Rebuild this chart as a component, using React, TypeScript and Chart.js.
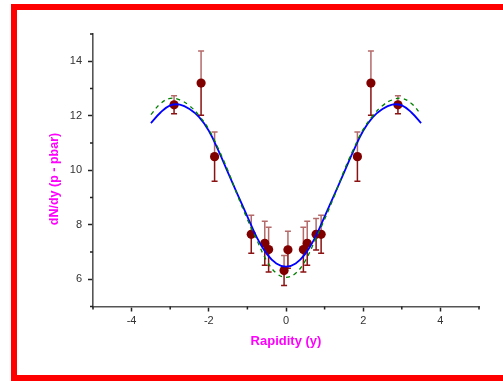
import { useEffect, useRef } from 'react';
import { Chart, registerables } from 'chart.js';
Chart.register(...registerables);

// Measured data points: rapidity, dN/dy and symmetric error
const rapidity = [-2.9, -2.2, -1.85, -0.9, -0.55, -0.45, -0.05, 0.05, 0.45, 0.55, 0.78, 0.91, 1.85, 2.2, 2.9];
const dndy = [12.4, 13.2, 10.5, 7.65, 7.32, 7.09, 6.32, 7.08, 7.09, 7.32, 7.65, 7.65, 10.5, 13.2, 12.4];
const dndyErr = [0.33, 1.18, 0.9, 0.7, 0.81, 0.82, 0.55, 0.68, 0.82, 0.81, 0.58, 0.7, 0.9, 1.18, 0.33];

// Fit curves
const curveX = [-3.5, -3.25, -3, -2.75, -2.5, -2.25, -2, -1.75, -1.5, -1.25, -1, -0.75, -0.5, -0.25, 0,
  0.25, 0.5, 0.75, 1, 1.25, 1.5, 1.75, 2, 2.25, 2.5, 2.75, 3, 3.25, 3.5];
const fitSolid = [11.73, 12.12, 12.38, 12.41, 12.25, 11.95, 11.45, 10.72, 9.9, 9.1, 8.3, 7.52, 6.93, 6.58, 6.46,
  6.58, 6.93, 7.52, 8.3, 9.1, 9.9, 10.72, 11.45, 11.95, 12.25, 12.41, 12.38, 12.12, 11.73];
const fitDashed = [12.04, 12.45, 12.64, 12.58, 12.37, 12.0, 11.5, 10.78, 9.97, 9.05, 8.2, 7.42, 6.68, 6.22, 6.07,
  6.22, 6.68, 7.42, 8.2, 9.05, 9.97, 10.78, 11.5, 12.0, 12.37, 12.58, 12.64, 12.45, 12.04];

const xTicksShown = [-4, -2, 0, 2, 4];
const yTicksShown = [6, 8, 10, 12, 14];
const xTitle = 'Rapidity (y)';
const yTitle = 'dN/dy (p - pbar)';

const FONT = '"Liberation Sans", Arial, sans-serif';

const decorPlugin = {
  id: 'decor',
  beforeDatasetDraw(chart: any, args: any) {
    if (args.index !== 2) return;
    const { ctx, scales } = chart;
    const xs = scales.x, ys = scales.y;
    ctx.save();
    ctx.lineWidth = 1.5;
    for (let i = 0; i < rapidity.length; i++) {
      const px = xs.getPixelForValue(rapidity[i]);
      const pm = ys.getPixelForValue(dndy[i]);
      const pt = ys.getPixelForValue(dndy[i] + dndyErr[i]);
      const pb = ys.getPixelForValue(dndy[i] - dndyErr[i]);
      ctx.strokeStyle = '#b56a6a';
      ctx.beginPath();
      ctx.moveTo(px, pm); ctx.lineTo(px, pt);
      ctx.moveTo(px - 3, pt); ctx.lineTo(px + 3, pt);
      ctx.stroke();
      ctx.strokeStyle = '#8b1212';
      ctx.beginPath();
      ctx.moveTo(px, pm); ctx.lineTo(px, pb);
      ctx.moveTo(px - 3, pb); ctx.lineTo(px + 3, pb);
      ctx.stroke();
    }
    ctx.restore();
  },
  afterDraw(chart: any) {
    const { ctx, scales, chartArea } = chart;
    const xs = scales.x, ys = scales.y;
    ctx.save();
    ctx.strokeStyle = '#222';
    ctx.lineWidth = 1.5;
    ctx.beginPath();
    for (let v = -5; v <= 5; v++) {
      if (v % 2 === 0) continue;
      const px = xs.getPixelForValue(v);
      ctx.moveTo(px, chartArea.bottom);
      ctx.lineTo(px, chartArea.bottom + 3);
    }
    for (let v = 5; v <= 15; v++) {
      if (v % 2 === 0) continue;
      const py = ys.getPixelForValue(v);
      ctx.moveTo(chartArea.left, py);
      ctx.lineTo(chartArea.left - 3, py);
    }
    ctx.stroke();

    ctx.fillStyle = '#ff00ff';
    ctx.font = `bold 13px ${FONT}`;
    ctx.textAlign = 'center';
    ctx.textBaseline = 'middle';
    ctx.fillText(xTitle, (chartArea.left + chartArea.right) / 2, 341);
    ctx.translate(55, 179);
    ctx.rotate(-Math.PI / 2);
    ctx.font = `bold 12.5px ${FONT}`;
    ctx.fillText(yTitle, 0, 0);
    ctx.restore();
  },
};

export default function App() {
  const ref = useRef<HTMLCanvasElement>(null);
  useEffect(() => {
    if (!ref.current) return;
    const chart = new Chart(ref.current, {
      type: 'scatter',
      data: {
        datasets: [
          {
            type: 'line',
            data: curveX.map((x, i) => ({ x, y: fitDashed[i] })),
            borderColor: '#008000',
            borderWidth: 1.3,
            borderDash: [4, 4],
            pointRadius: 0,
            tension: 0.4,
            fill: false,
          },
          {
            type: 'line',
            data: curveX.map((x, i) => ({ x, y: fitSolid[i] })),
            borderColor: '#0000ff',
            borderWidth: 1.8,
            pointRadius: 0,
            tension: 0.4,
            fill: false,
          },
          {
            type: 'scatter',
            data: rapidity.map((x, i) => ({ x, y: dndy[i] })),
            backgroundColor: '#800000',
            borderColor: '#800000',
            borderWidth: 0,
            pointRadius: 4.6,
            pointHoverRadius: 4.6,
          },
        ],
      },
      options: {
        responsive: false,
        animation: false,
        devicePixelRatio: 1,
        layout: { padding: { left: 0, top: 34, right: 24, bottom: 0 } },
        plugins: { legend: { display: false }, tooltip: { enabled: false }, title: { display: false } },
        scales: {
          x: {
            type: 'linear',
            min: -5,
            max: 5,
            afterFit: (s: any) => { s.height = 74.5; },
            ticks: {
              stepSize: 1,
              autoSkip: false,
              maxRotation: 0,
              padding: 3,
              color: '#333',
              font: { family: FONT, size: 11 },
              callback: (v: any) => (xTicksShown.includes(Number(v)) ? String(v) : ''),
            },
            grid: {
              drawOnChartArea: false,
              tickLength: 5,
              tickWidth: 1.5,
              tickColor: (c: any) => (xTicksShown.includes(c.tick?.value) ? '#222' : 'transparent'),
            },
            border: { color: '#555', width: 1.6 },
          },
          y: {
            type: 'linear',
            min: 5,
            max: 15,
            afterFit: (s: any) => { s.width = 93; },
            ticks: {
              stepSize: 1,
              autoSkip: false,
              padding: 6,
              color: '#333',
              font: { family: FONT, size: 11 },
              callback: (v: any) => (yTicksShown.includes(Number(v)) ? String(v) : ''),
            },
            grid: {
              drawOnChartArea: false,
              tickLength: 5,
              tickWidth: 1.5,
              tickColor: (c: any) => (yTicksShown.includes(c.tick?.value) ? '#222' : 'transparent'),
            },
            border: { color: '#555', width: 1.6 },
          },
        },
      },
      plugins: [decorPlugin],
    });
    return () => chart.destroy();
  }, []);

  return (
    <div style={{ position: 'absolute', left: 0, top: 0, width: 503, height: 381, overflow: 'hidden', background: '#fff' }}>
      <canvas ref={ref} width={503} height={381} style={{ position: 'absolute', left: 0, top: 0 }} />
      <div
        style={{
          position: 'absolute', left: 11, top: 4, width: 520, height: 377, boxSizing: 'border-box',
          borderTop: '6px solid #ff0000', borderLeft: '6px solid #ff0000', borderBottom: '6px solid #ff0000',
          pointerEvents: 'none',
        }}
      />
    </div>
  );
}
